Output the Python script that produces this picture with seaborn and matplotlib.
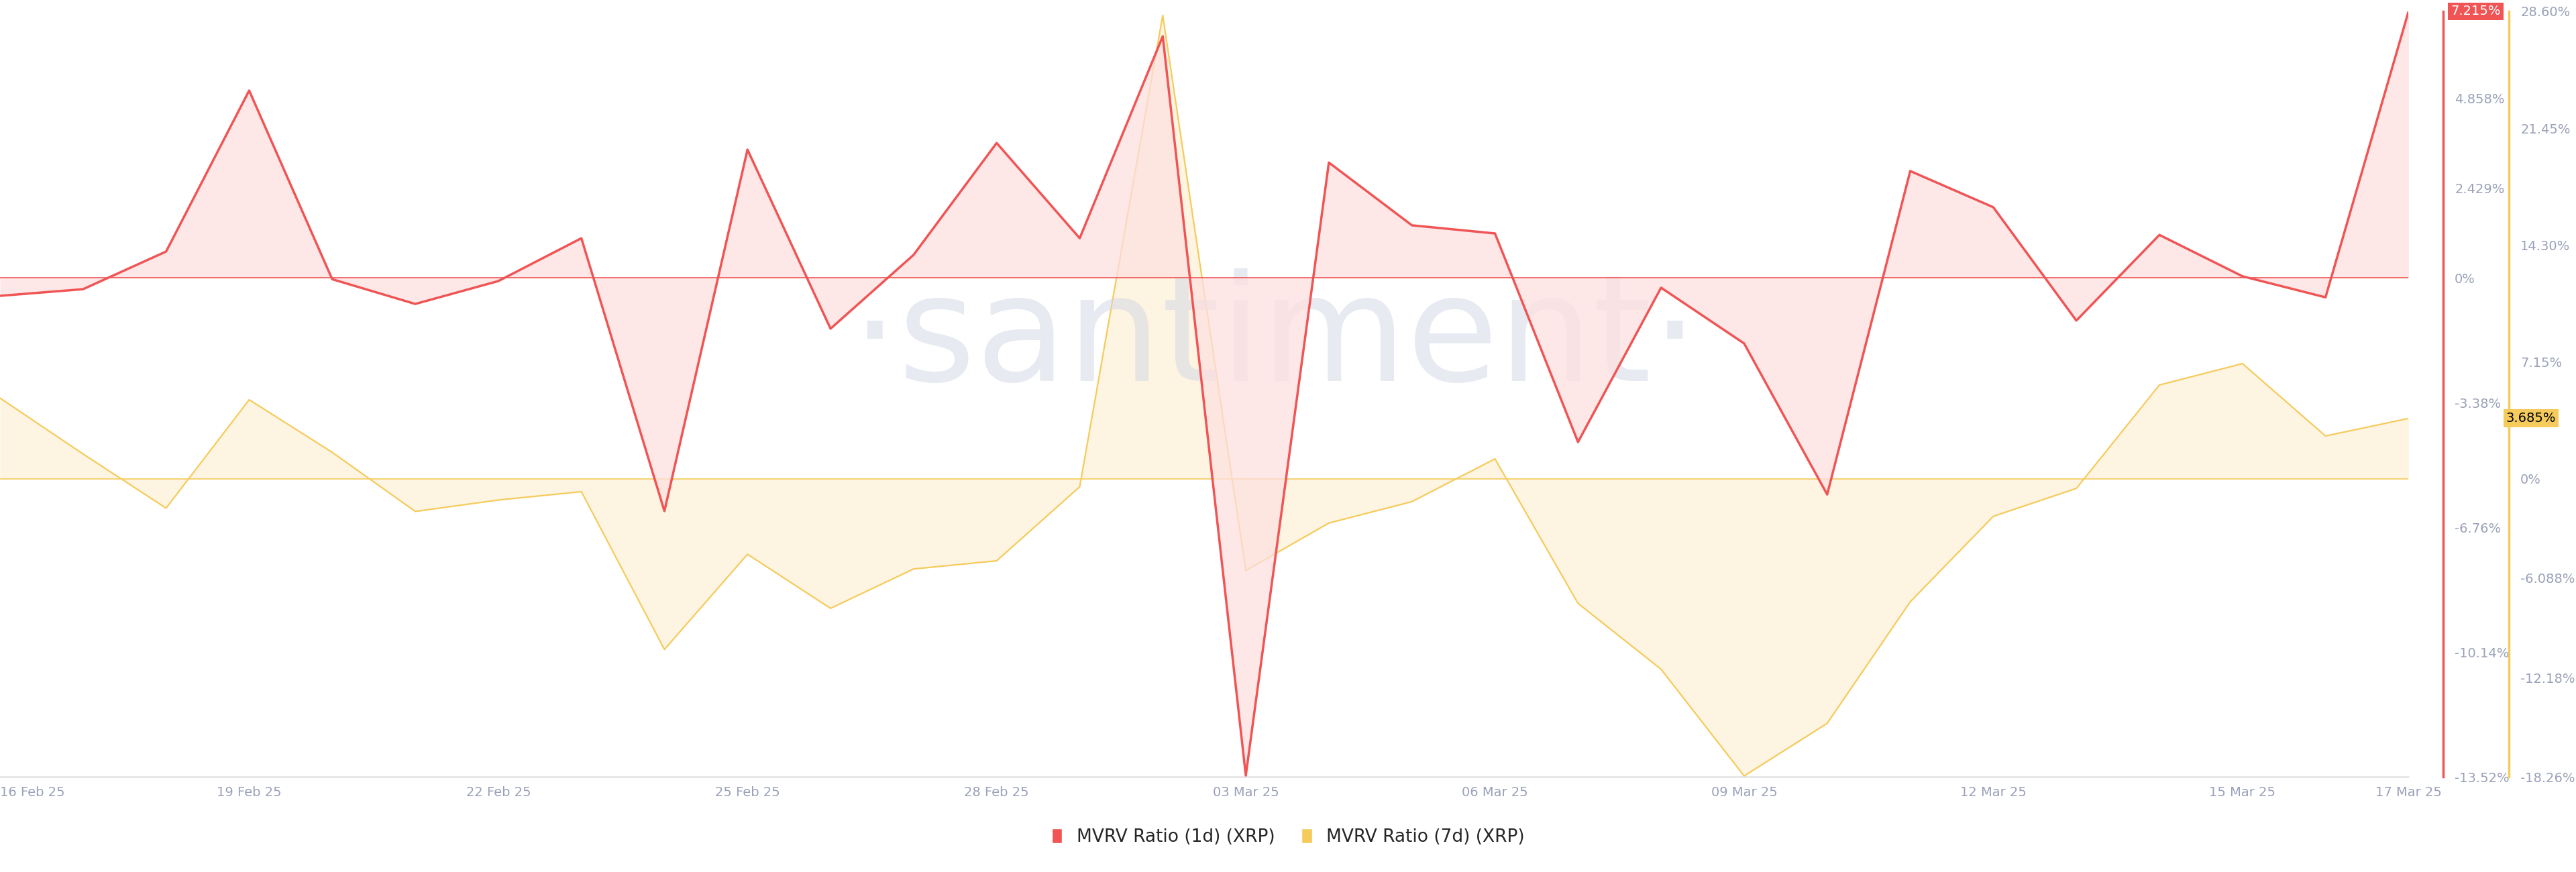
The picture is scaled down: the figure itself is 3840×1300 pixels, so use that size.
import pandas as pd
import seaborn as sns
import numpy as np
import matplotlib.pyplot as plt

sns.set_style('white')
plt.rcParams['font.family'] = ['DejaVu Sans']

dates = pd.date_range('2025-02-16', '2025-03-17', freq='D')
mvrv_1d = [-0.49, -0.31, 0.71, 5.07, -0.04, -0.71, -0.09, 1.07, -6.32, 3.47,
           -1.38, 0.62, 3.65, 1.07, 6.54, -13.48, 3.12, 1.42, 1.20, -4.45,
           -0.27, -1.78, -5.87, 2.89, 1.91, -1.16, 1.16, 0.04, -0.53, 7.215]
mvrv_7d = [4.93, 1.51, -1.81, 4.83, 1.61, -2.01, -1.31, -0.80, -10.46, -4.63,
           -7.94, -5.53, -5.03, -0.50, 28.36, -5.63, -2.72, -1.41, 1.21, -7.64,
           -11.67, -18.2, -14.98, -7.54, -2.31, -0.60, 5.73, 7.04, 2.61, 3.685]
red_ticks = [4.858, 2.429, 0, -3.38, -6.76, -10.14, -13.52]
red_labels = ['4.858%', '2.429%', '0%', '-3.38%', '-6.76%', '-10.14%', '-13.52%']
yel_ticks = [28.60, 21.45, 14.30, 7.15, 0, -6.088, -12.18, -18.26]
yel_labels = ['28.60%', '21.45%', '14.30%', '7.15%', '0%', '-6.088%', '-12.18%', '-18.26%']
x_ticks = ['2025-02-16', '2025-02-19', '2025-02-22', '2025-02-25', '2025-02-28', '2025-03-03',
           '2025-03-06', '2025-03-09', '2025-03-12', '2025-03-15', '2025-03-17']

df = pd.DataFrame({'date': dates, 'd1': mvrv_1d, 'd7': mvrv_7d})
red = '#f05454'
yel = '#f5cb5c'
grey = '#9aa1b8'

fig = plt.figure(figsize=(38.4, 13), dpi=100)
ax = fig.add_axes([0, 0.109, 0.935, 0.878])
ax.set_yticks([])
ax_r = ax.twinx()
ax_y = ax.twinx()
for a in (ax, ax_r, ax_y):
    for s in a.spines.values():
        s.set_visible(False)
ax.spines['bottom'].set_visible(True)
ax.spines['bottom'].set_color('#e6e6e6')
ax.spines['bottom'].set_linewidth(2)

# yellow series
ax_y.fill_between(df['date'], df['d7'], 0, color='#fdf0d5', alpha=0.7, lw=0)
sns.lineplot(data=df, x='date', y='d7', ax=ax_y, color=yel, lw=1.6)
ax_y.axhline(0, color=yel, lw=1.2)
ax_y.set_ylim(-18.26, 28.60)

ax_r.fill_between(df['date'], df['d1'], 0, color='#fde0e0', alpha=0.75, lw=0)
sns.lineplot(data=df, x='date', y='d1', ax=ax_r, color=red, lw=2.5)
ax_r.axhline(0, color=red, lw=1.2)
ax_r.set_ylim(-13.52, 7.215)
ax_r.set_zorder(ax_y.get_zorder() + 1)

ax.set_xlim(dates[0], dates[-1])
ax.set_xticks(pd.to_datetime(x_ticks))
ax.set_xticklabels([pd.Timestamp(t).strftime('%d %b %y') for t in x_ticks],
                   color=grey, fontsize=14)
ax.get_xticklabels()[0].set_ha('left')
ax.tick_params(axis='x', length=0, pad=10)

ax_r.spines['right'].set_visible(True)
ax_r.spines['right'].set_position(('axes', 1.0145))
ax_r.spines['right'].set_color(red)
ax_r.spines['right'].set_linewidth(2.5)
ax_r.set_yticks(red_ticks)
ax_r.set_yticklabels(red_labels, color=grey, fontsize=14)
ax_r.tick_params(axis='y', length=0, pad=12)
ax_r.set_ylabel('')

ax_y.spines['right'].set_visible(True)
ax_y.spines['right'].set_position(('axes', 1.0418))
ax_y.spines['right'].set_color(yel)
ax_y.spines['right'].set_linewidth(2.5)
ax_y.set_yticks(yel_ticks)
ax_y.set_yticklabels(yel_labels, color=grey, fontsize=14)
ax_y.tick_params(axis='y', length=0, pad=12)
ax_y.set_ylabel('')
ax.set_xlabel('')

# value badges
ax_r.text(1.0175, 7.215, '7.215%', transform=ax_r.get_yaxis_transform(), ha='left', va='center',
          fontsize=14, color='white', bbox=dict(boxstyle='square,pad=0.2', fc=red, ec='none'),
          clip_on=False, zorder=10)
ax_y.text(1.0405, 3.685, '3.685%', transform=ax_y.get_yaxis_transform(), ha='left', va='center',
          fontsize=14, color='black', bbox=dict(boxstyle='square,pad=0.2', fc=yel, ec='none'),
          clip_on=False, zorder=10)

# watermark
fig.text(0.495, 0.61, '·santiment·', fontsize=160, color='#d5d9e6', alpha=0.55,
         ha='center', va='center', zorder=0)

handles = [plt.Rectangle((0, 0), 1, 1, fc=red), plt.Rectangle((0, 0), 1, 1, fc=yel)]
fig.legend(handles, ['MVRV Ratio (1d) (XRP)', 'MVRV Ratio (7d) (XRP)'], loc='center',
           bbox_to_anchor=(0.5, 0.04), ncol=2, frameon=False, fontsize=19,
           handlelength=0.6, handleheight=0.9, columnspacing=1.5)

fig.savefig('out.png', dpi=100)
